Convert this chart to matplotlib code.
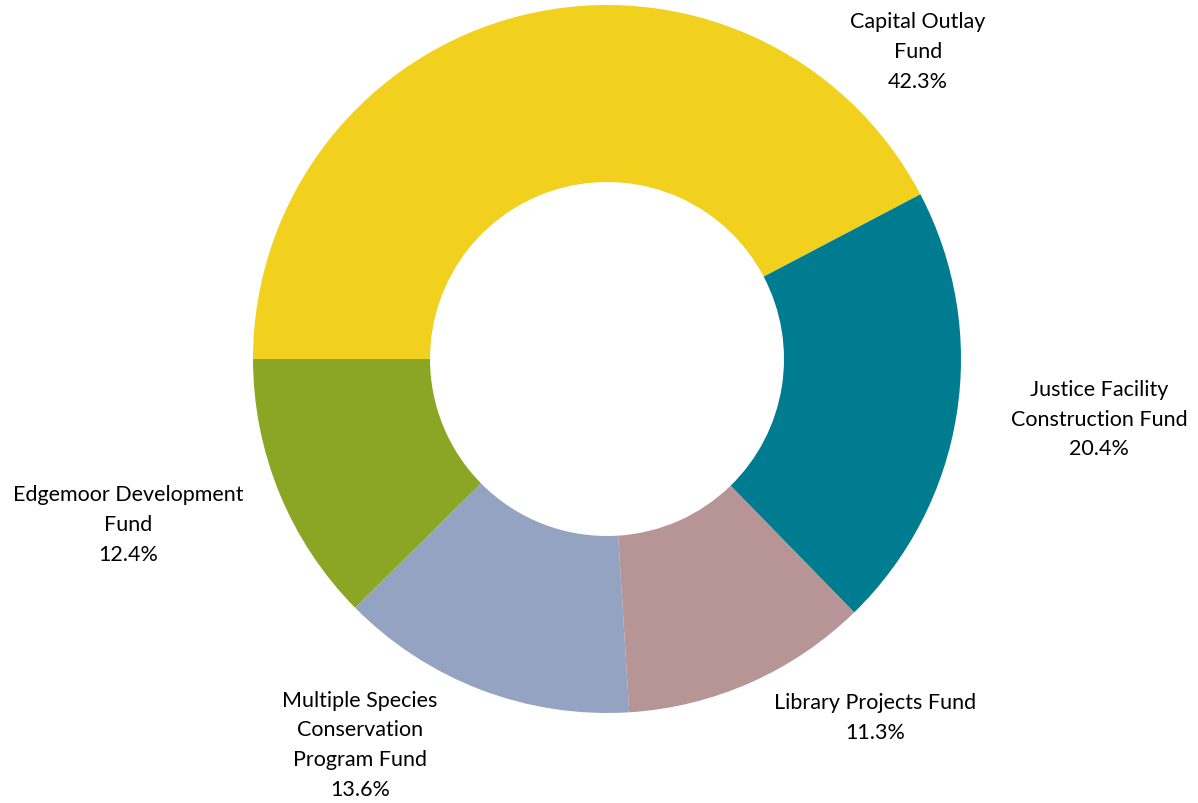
import matplotlib
matplotlib.use("Agg")
import matplotlib.pyplot as plt

funds = [
    "Capital Outlay\nFund",
    "Justice Facility\nConstruction Fund",
    "Library Projects Fund",
    "Multiple Species\nConservation\nProgram Fund",
    "Edgemoor Development\nFund",
]
shares = [42.3, 20.4, 11.3, 13.6, 12.4]
colors = ["#F2D01E", "#007C91", "#B79496", "#93A3C1", "#8AA624"]

# label anchor points (data units, ring radius = 1)
label_xy = [
    (0.879, 0.870),
    (1.390, -0.169),
    (0.757, -1.011),
    (-0.698, -1.088),
    (-1.353, -0.466),
]

plt.rcParams["font.family"] = ["Lato", "DejaVu Sans"]

fig = plt.figure(figsize=(11.98, 8.04), dpi=100)
ax = fig.add_axes([0, 0, 1, 1])

ax.pie(
    shares,
    colors=colors,
    startangle=180,
    counterclock=False,
    radius=1.0,
    wedgeprops=dict(width=0.5, linewidth=0),
)

for name, val, (x, y) in zip(funds, shares, label_xy):
    ax.text(x, y, f"{name}\n{val:.1f}%", ha="center", va="center",
            fontsize=15.5, color="#000000", linespacing=1.6)

W, H = 1198, 804
cx, cy, r = 607, 360, 354
ax.set_xlim(-cx / r, (W - cx) / r)
ax.set_ylim(-(H - cy) / r, cy / r)
ax.set_aspect("equal")
ax.axis("off")

fig.savefig("out.png", dpi=100, facecolor="white")
